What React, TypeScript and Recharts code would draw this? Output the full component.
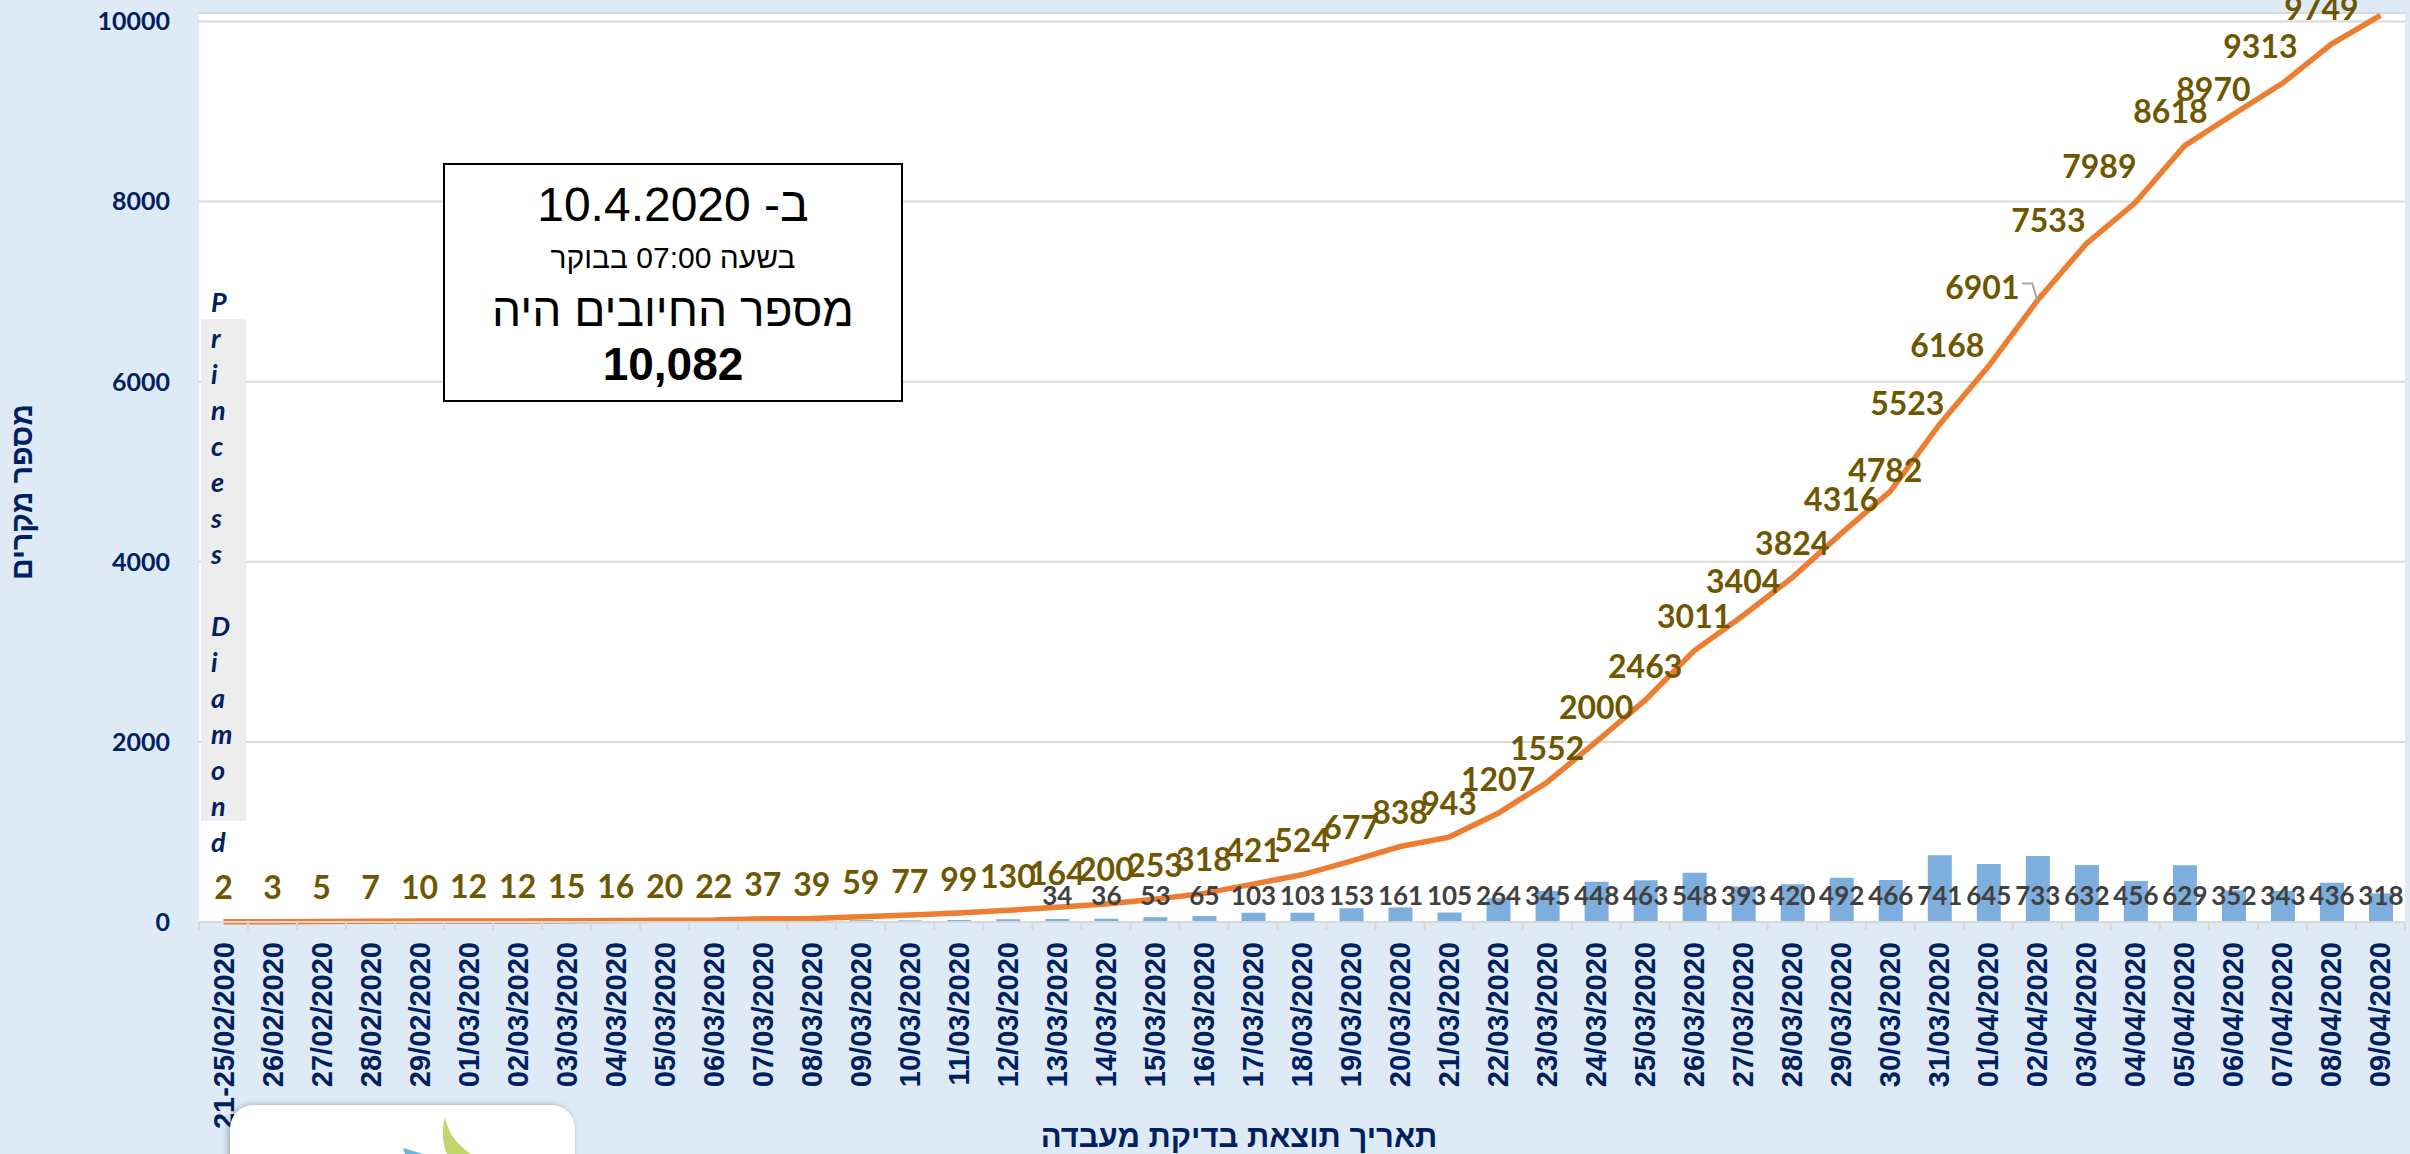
import React from "react";
import {
  ComposedChart,
  Bar,
  Line,
  XAxis,
  YAxis,
  CartesianGrid,
  LabelList,
} from "recharts";

const dates = [
  "21-25/02/2020", "26/02/2020", "27/02/2020", "28/02/2020", "29/02/2020",
  "01/03/2020", "02/03/2020", "03/03/2020", "04/03/2020", "05/03/2020",
  "06/03/2020", "07/03/2020", "08/03/2020", "09/03/2020", "10/03/2020",
  "11/03/2020", "12/03/2020", "13/03/2020", "14/03/2020", "15/03/2020",
  "16/03/2020", "17/03/2020", "18/03/2020", "19/03/2020", "20/03/2020",
  "21/03/2020", "22/03/2020", "23/03/2020", "24/03/2020", "25/03/2020",
  "26/03/2020", "27/03/2020", "28/03/2020", "29/03/2020", "30/03/2020",
  "31/03/2020", "01/04/2020", "02/04/2020", "03/04/2020", "04/04/2020",
  "05/04/2020", "06/04/2020", "07/04/2020", "08/04/2020", "09/04/2020",
];

// cumulative positives (orange line)
const totalCases = [
  2, 3, 5, 7, 10, 12, 12, 15, 16, 20, 22, 37, 39, 59, 77, 99, 130, 164, 200,
  253, 318, 421, 524, 677, 838, 943, 1207, 1552, 2000, 2463, 3011, 3404, 3824,
  4316, 4782, 5523, 6168, 6901, 7533, 7989, 8618, 8970, 9313, 9749, 10067,
];

// new positives per day (blue bars)
const dailyCases = [
  2, 1, 2, 2, 3, 2, 0, 3, 1, 4, 2, 15, 2, 20, 18, 22, 31, 34, 36, 53, 65, 103,
  103, 153, 161, 105, 264, 345, 448, 463, 548, 393, 420, 492, 466, 741, 645,
  733, 632, 456, 629, 352, 343, 436, 318,
];

const yTicks = [0, 2000, 4000, 6000, 8000, 10000];
const dailyLabelFrom = "13/03/2020";

const data = dates.map((date, i) => ({
  date,
  total: totalCases[i],
  daily: dailyCases[i],
}));

const W = 2410;
const H = 1154;
const PLOT_LEFT = 199;
const PLOT_RIGHT = 2405;
const PLOT_TOP = 13;
const X_AXIS_H = 232;
const AXIS_Y = H - X_AXIS_H;
const BAND = (PLOT_RIGHT - PLOT_LEFT) / dates.length;

const NAVY = "#002060";
const OLIVE = "#6E5700";
const GRID = "#D9D9D9";
const firstDailyLabel = dates.indexOf(dailyLabelFrom);

// hand-dragged labels on the steep part of the curve (dx, dy from the point)
const labelNudges: Record<string, [number, number]> = {
  "30/03/2020": [-5, -22],
  "31/03/2020": [-32, -22],
  "01/04/2020": [-41, -22],
  "02/04/2020": [-55, -14],
  "03/04/2020": [-38, -24],
  "04/04/2020": [-36, -37],
  "05/04/2020": [-14, -35],
  "06/04/2020": [-20, -26],
  "07/04/2020": [-22, -38],
  "08/04/2020": [-10, -37],
};

// category slot under a given x (zero bars are skipped by the label list,
// so its index can't be trusted)
const slotAt = (cx: number) => Math.round((cx - PLOT_LEFT - BAND / 2) / BAND);

function DateTick(props: any) {
  const { x, payload, index } = props;
  const ty = AXIS_Y + 20;
  return (
    <g>
      <line x1={x - BAND / 2} x2={x - BAND / 2} y1={AXIS_Y} y2={AXIS_Y + 8} stroke={GRID} strokeWidth={2} />
      {index === dates.length - 1 && (
        <line x1={x + BAND / 2} x2={x + BAND / 2} y1={AXIS_Y} y2={AXIS_Y + 8} stroke={GRID} strokeWidth={2} />
      )}
      <text
        x={x}
        y={ty}
        transform={`rotate(-90 ${x} ${ty})`}
        textAnchor="end"
        dominantBaseline="central"
        fill={NAVY}
        fontSize={29}
        fontWeight={700}
        fontFamily="'Liberation Sans', Arial, sans-serif"
      >
        {payload.value}
      </text>
    </g>
  );
}

function TotalLabel(props: any) {
  const { x, y, value } = props;
  if (x == null || y == null) return null;
  const [dx, dy] = labelNudges[dates[slotAt(x)]] ?? [0, -35];
  const lx = x + dx;
  const ly = y + dy;
  return (
    <g>
      {dx < -50 && (
        <polyline
          points={`${lx + 40},${ly - 3} ${x - 5},${ly - 3} ${x},${y}`}
          fill="none"
          stroke="#A6A6A6"
          strokeWidth={2}
        />
      )}
      <text
        x={lx}
        y={ly}
        textAnchor="middle"
        dominantBaseline="central"
        fill={OLIVE}
        fontSize={32}
        fontWeight={700}
        fontFamily="Lato, sans-serif"
      >
        {value}
      </text>
    </g>
  );
}

function DailyLabel(props: any) {
  const { x, y, width, height, value } = props;
  if (x == null) return null;
  const cx = x + width / 2;
  if (slotAt(cx) < firstDailyLabel) return null;
  const bottom = y + height;
  return (
    <text
      x={cx}
      y={bottom - 27}
      textAnchor="middle"
      dominantBaseline="central"
      fill="#404040"
      fontSize={26}
      fontWeight={700}
      fontFamily="Lato, sans-serif"
    >
      {value}
    </text>
  );
}

const shipName = "Princess Diamond";

export default function App() {
  const yMax = ((AXIS_Y - PLOT_TOP) / (AXIS_Y - 21.5)) * 10000;
  return (
    <div
      style={{
        position: "absolute",
        left: 0,
        top: 0,
        width: W,
        height: H,
        background: "#DEEBF7",
        overflow: "hidden",
      }}
    >
      <ComposedChart
        width={W}
        height={H}
        data={data}
        margin={{ top: PLOT_TOP, right: W - PLOT_RIGHT, bottom: 0, left: 0 }}
      >
        <CartesianGrid vertical={false} stroke={GRID} strokeWidth={2} fill="#FFFFFF" fillOpacity={1} />
        <XAxis
          dataKey="date"
          interval={0}
          height={X_AXIS_H}
          tickLine={false}
          axisLine={{ stroke: GRID, strokeWidth: 2 }}
          tick={<DateTick />}
        />
        <YAxis
          width={PLOT_LEFT}
          domain={[0, yMax]}
          ticks={yTicks}
          axisLine={false}
          tickLine={false}
          tickMargin={23}
          tick={{ fill: NAVY, fontSize: 25, fontWeight: 700, fontFamily: "Lato, sans-serif" }}
        />
        <Bar dataKey="daily" fill="#7DAEDD" barSize={24} isAnimationActive={false}>
          <LabelList dataKey="daily" content={<DailyLabel />} />
        </Bar>
        <Line
          type="linear"
          dataKey="total"
          stroke="#ED7D31"
          strokeWidth={5.5}
          dot={false}
          isAnimationActive={false}
        >
          <LabelList dataKey="total" content={<TotalLabel />} />
        </Line>
      </ComposedChart>

      {/* cruise ship cases, written down the first column */}
      <div
        style={{
          position: "absolute",
          left: 201,
          top: 319,
          width: 45,
          height: 502,
          background: "#EDEDED",
        }}
      />
      {shipName.split("").map((ch, i) => (
        <div
          key={i}
          style={{
            position: "absolute",
            left: 211,
            top: 302 + i * 36 - 17,
            height: 34,
            lineHeight: "34px",
            color: NAVY,
            fontFamily: "Lato, sans-serif",
            fontWeight: 700,
            fontStyle: "italic",
            fontSize: 27,
          }}
        >
          {ch}
        </div>
      ))}

      {/* summary box */}
      <div
        style={{
          position: "absolute",
          left: 443,
          top: 163,
          width: 460,
          height: 239,
          boxSizing: "border-box",
          border: "2px solid #000",
          background: "#fff",
          direction: "rtl",
          fontFamily: "'Liberation Sans', Arial, sans-serif",
          color: "#000",
          textAlign: "center",
        }}
      >
        {[
          { text: "ב- 10.4.2020", top: 40, size: 48, bold: false },
          { text: "בשעה 07:00 בבוקר", top: 93, size: 30, bold: false },
          { text: "מספר החיובים היה", top: 145, size: 46, bold: false },
          { text: "10,082", top: 199, size: 46, bold: true },
        ].map((l, i) => (
          <div
            key={i}
            style={{
              position: "absolute",
              left: 0,
              right: 0,
              top: l.top - 30,
              height: 60,
              lineHeight: "60px",
              fontSize: l.size,
              fontWeight: l.bold ? 700 : 400,
              whiteSpace: "nowrap",
            }}
          >
            {l.text}
          </div>
        ))}
      </div>

      {/* axis titles */}
      <div
        style={{
          position: "absolute",
          left: 22 - 150,
          top: 492 - 20,
          width: 300,
          height: 40,
          lineHeight: "40px",
          textAlign: "center",
          transform: "rotate(-90deg)",
          direction: "rtl",
          color: NAVY,
          fontWeight: 700,
          fontSize: 30,
          fontFamily: "'Liberation Sans', Arial, sans-serif",
        }}
      >
        מספר מקרים
      </div>
      <div
        style={{
          position: "absolute",
          left: 1239 - 300,
          top: 1137 - 20,
          width: 600,
          height: 40,
          lineHeight: "40px",
          textAlign: "center",
          direction: "rtl",
          color: NAVY,
          fontWeight: 700,
          fontSize: 31,
          fontFamily: "'Liberation Sans', Arial, sans-serif",
        }}
      >
        תאריך תוצאת בדיקת מעבדה
      </div>

      {/* ministry logo, cut off by the slide edge */}
      <svg style={{ position: "absolute", left: 215, top: 1095 }} width={375} height={59}>
        <defs>
          <filter id="logoShadow" x="-10%" y="-30%" width="120%" height="160%">
            <feDropShadow dx="-2" dy="0" stdDeviation="3" floodColor="#000" floodOpacity="0.3" />
          </filter>
        </defs>
        <rect x={15} y={10} width={345} height={80} rx={24} fill="#FFFFFF" filter="url(#logoShadow)" />
        <path d="M230,22 C226,36 228,50 232,59 L256,59 C246,52 234,42 230,22 Z" fill="#C3D66B" />
        <path d="M188,53 L208,59 L190,59 Z" fill="#6CB4D8" />
      </svg>
    </div>
  );
}
